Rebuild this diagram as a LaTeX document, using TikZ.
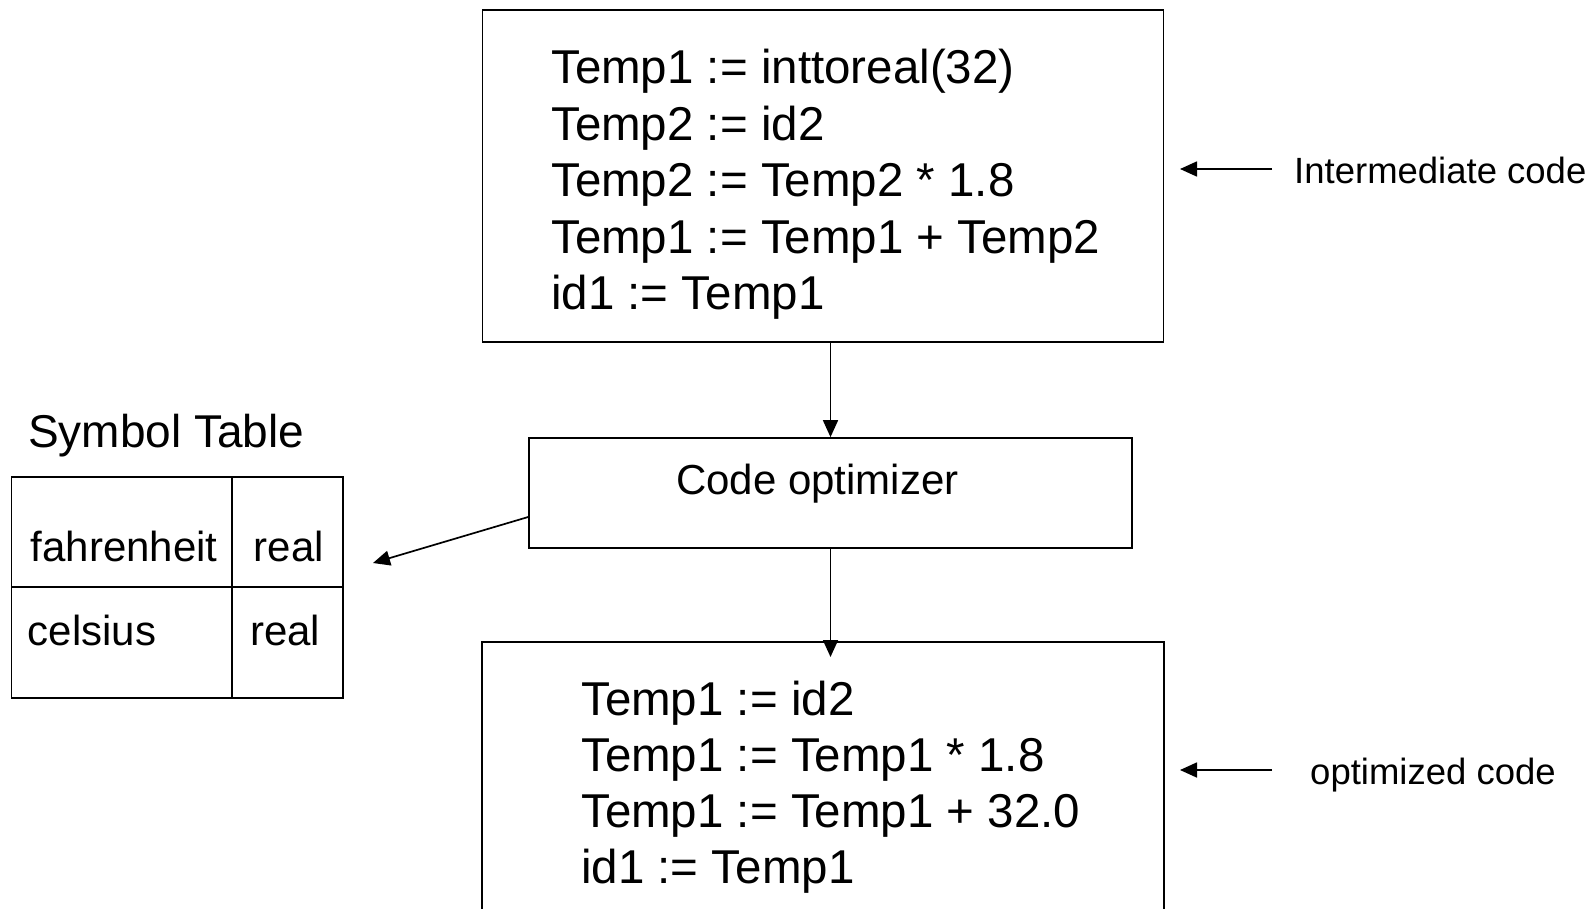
\documentclass[tikz,border=0pt]{standalone}
\usepackage{fontspec}
\setmainfont{Liberation Sans}
\usetikzlibrary{arrows.meta}
\begin{document}
\begin{tikzpicture}[x=1pt,y=-1pt,
  box/.style={draw,line width=1.7pt,inner sep=0pt},
  txt/.style={anchor=base west,inner sep=0pt},
  arr/.style={line width=1.7pt,-{Triangle[length=17pt,width=15pt]}},
  big/.style={font=\fontsize{47.5}{56}\selectfont},
  mid/.style={font=\fontsize{42}{50}\selectfont},
  lab/.style={font=\fontsize{36.5}{44}\selectfont}]
\useasboundingbox (0,0) rectangle (1596,908);
% boxes
\node[box,minimum width=681pt,minimum height=332pt] (ic) at (823,176) {};
\node[box,minimum width=603pt,minimum height=110pt] (opt) at (830.5,493) {};
\node[inner sep=0pt,minimum width=681pt,minimum height=278pt] (oc) at (823,781) {};
\draw[line width=1.7pt] (oc.south west) -- (oc.north west) -- (oc.north east) -- (oc.south east);
% intermediate code text
\node[txt,big] (i1) at (551,83.5) {Temp1 := inttoreal(32)};
\node[txt,big] (i2) at (551,140) {Temp2 := id2};
\node[txt,big] (i3) at (551,196.5) {Temp2 := Temp2 * 1.8};
\node[txt,big] (i4) at (551,253) {Temp1 := Temp1 + Temp2};
\node[txt,big] (i5) at (551,309.5) {id1 := Temp1};
% optimizer
\node[txt,mid] (optt) at (676,494) {Code optimizer};
% optimized code text
\node[txt,big] (o1) at (581,715) {Temp1 := id2};
\node[txt,big] (o2) at (581,771.5) {Temp1 := Temp1 * 1.8};
\node[txt,big] (o3) at (581,827) {Temp1 := Temp1 + 32.0};
\node[txt,big] (o4) at (581,883.3) {id1 := Temp1};
% side labels
\coordinate (a1s) at (1272,169);
\coordinate (a1e) at (1180,169);
\draw[arr] (a1s) -- (a1e);
\node[txt,lab] (il) at (1294,183) {Intermediate code};
\coordinate (a2s) at (1272,770);
\coordinate (a2e) at (1180,770);
\draw[arr] (a2s) -- (a2e);
\node[txt,lab] (ol) at (1310,784) {optimized code};
% symbol table
\node[txt,font=\fontsize{46}{54}\selectfont] (st) at (28,447) {Symbol Table};
\node[box,minimum width=221pt,minimum height=110pt] (c11) at (122,532) {};
\node[box,minimum width=111pt,minimum height=110pt] (c12) at (287.5,532) {};
\node[box,minimum width=221pt,minimum height=111pt] (c21) at (122,642.5) {};
\node[box,minimum width=111pt,minimum height=111pt] (c22) at (287.5,642.5) {};
\node[txt,mid] (f) at (30.5,561) {fahrenheit};
\node[txt,mid] (r1) at (253.5,561) {real};
\node[txt,mid] (cs) at (27.5,645) {celsius};
\node[txt,mid] (r2) at (250,645) {real};
% connectors
\draw[arr] (ic.south -| opt.north) -- (opt.north);
\coordinate (t2) at (830.5,657);
\draw[arr] (opt.south) -- (t2);
\coordinate (t3) at (373,563);
\draw[arr] ([yshift=-24pt]opt.west) -- (t3);
\end{tikzpicture}
\end{document}
